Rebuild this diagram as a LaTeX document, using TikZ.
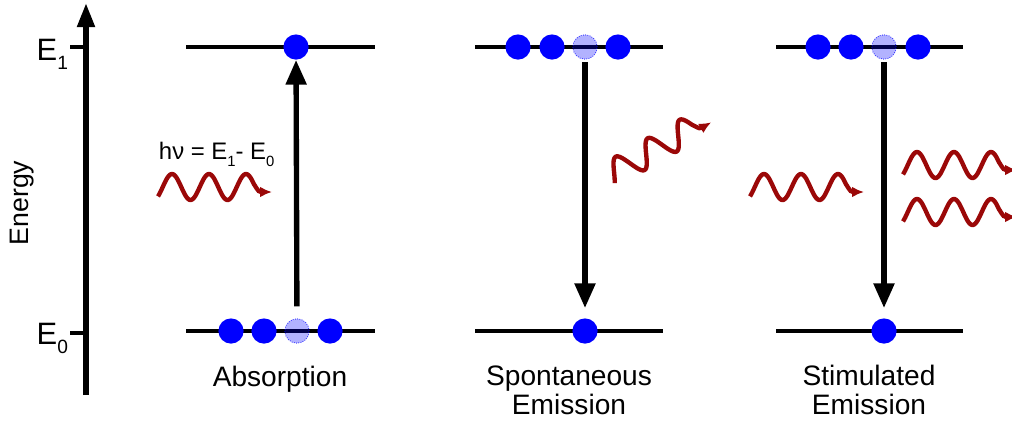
\documentclass[tikz,border=0pt]{standalone}
\usepackage{fontspec}
\setmainfont{Liberation Sans}
\usetikzlibrary{arrows.meta}
\definecolor{photonred}{RGB}{155,8,8}
\newcommand{\lowsub}[1]{\raisebox{-0.3em}{\scalebox{0.62}{#1}}}

\begin{document}
\begin{tikzpicture}[x=0.025cm, y=-0.025cm,
  level/.style={line width=3.3pt},
  axisline/.style={line width=3.8pt, -{Triangle[length=0.6cm, width=0.42cm]}},
  transition/.style={line width=3.8pt, -{Triangle[length=0.62cm, width=0.5cm]}},
  electron/.style={circle, fill=blue, inner sep=0pt, minimum size=0.63cm},
  vacancy/.style={circle, fill=blue, fill opacity=0.3, draw=blue, draw opacity=0.8,
    densely dotted, line width=0.6pt, inner sep=0pt, minimum size=0.61cm},
  photonline/.style={line width=3.1pt, draw=photonred,
    -{Latex[length=0.3cm, width=0.27cm]}},
  photon/.pic={
    \draw[photonline] plot[domain=0:96, samples=90, smooth]
      (\x, {-13*sin((\x-14)*9.7297+90)}) .. controls (101,5) .. (114,5);
  },
  caption/.style={font=\fontsize{20}{20}\selectfont, align=center, anchor=base},
  levellabel/.style={font=\fontsize{22}{22}\selectfont, anchor=base east}
]
\useasboundingbox (0,0) rectangle (1012,423);

% energy axis
\coordinate (axisbottom) at (86,395);
\coordinate (axistop) at (86,3);
\draw[axisline] (axisbottom) -- (axistop);
\draw[level] (70,47) -- (86,47);
\draw[level] (70,333) -- (86,333);
\node[levellabel] (labelone) at (73,60) {E\lowsub{1}};
\node[levellabel] (labelzero) at (73,344) {E\lowsub{0}};
\node[rotate=90, font=\fontsize{19}{19}\selectfont] (energy) at (22,203) {Energy};

% energy levels
\foreach \xa/\xb in {186/375,475/663,776/963} {
  \draw[level] (\xa,47) -- (\xb,47);
  \draw[level] (\xa,331) -- (\xb,331);
}

% absorption
\node[electron] (abs-top) at (296,47) {};
\node[electron] (abs-b1) at (231,331) {};
\node[electron] (abs-b2) at (264,331) {};
\node[vacancy] (abs-hole) at (297,331) {};
\node[electron] (abs-b4) at (330,331) {};
\node[font=\fontsize{17}{17}\selectfont, anchor=base west] (energygap) at (154,159)
  {hν = E\lowsub{1}- E\lowsub{0}};
\pic at (158,187) {photon};
\node[caption] (abs-caption) at (280,386) {Absorption};

% spontaneous emission
\node[electron] (spo-t1) at (518,47) {};
\node[electron] (spo-t2) at (552,47) {};
\node[vacancy] (spo-hole) at (585,47) {};
\node[electron] (spo-t4) at (618,47) {};
\node[electron] (spo-bottom) at (585,331) {};
\pic[rotate=30] at (610,175) {photon};
\node[caption] (spo-caption) at (569,414) {Spontaneous\\Emission};

% stimulated emission
\node[electron] (sti-t1) at (818,47) {};
\node[electron] (sti-t2) at (851,47) {};
\node[vacancy] (sti-hole) at (884,47) {};
\node[electron] (sti-t4) at (918,47) {};
\node[electron] (sti-bottom) at (884,331) {};
\pic at (750,187) {photon};
\pic at (903,165) {photon};
\pic at (903,212) {photon};
\node[caption] (sti-caption) at (869,414) {Stimulated\\Emission};

% transitions
\draw[transition, shorten <=0.3cm] (abs-hole) -- (abs-top);
\foreach \a/\b in {spo-hole/spo-bottom,sti-hole/sti-bottom}
  \draw[transition, shorten <=0.06cm, shorten >=0.25cm] (\a) -- (\b);
\end{tikzpicture}
\end{document}
